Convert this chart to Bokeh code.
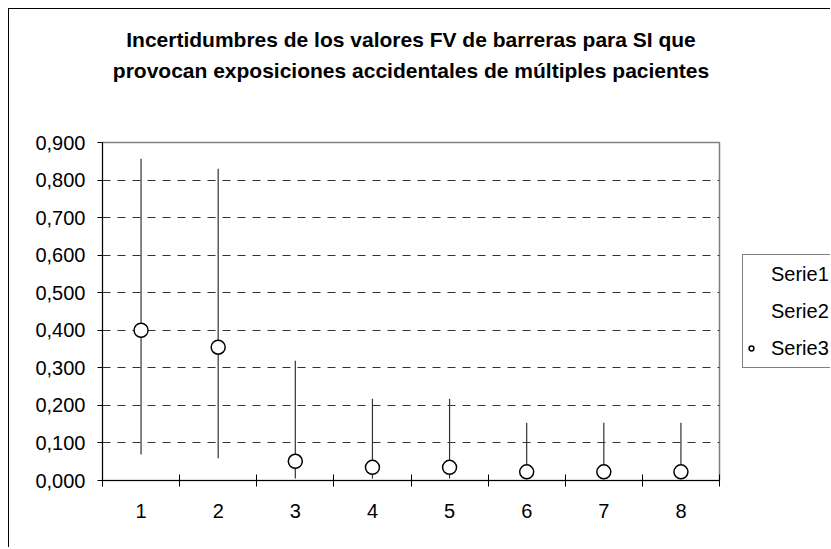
from bokeh.plotting import figure
from bokeh.models import Range1d, FixedTicker, Legend, LegendItem, Title, ColumnDataSource
from bokeh.embed import file_html
from bokeh.resources import INLINE

# ---- data ----
categories = [1, 2, 3, 4, 5, 6, 7, 8]
x_tick_labels = ["1", "2", "3", "4", "5", "6", "7", "8"]
serie1_high = [0.857, 0.830, 0.319, 0.218, 0.218, 0.154, 0.154, 0.154]
serie2_low = [0.069, 0.059, 0.005, 0.005, 0.005, 0.003, 0.003, 0.003]
serie3_mid = [0.400, 0.355, 0.051, 0.035, 0.035, 0.023, 0.023, 0.023]
y_ticks = [0.0, 0.1, 0.2, 0.3, 0.4, 0.5, 0.6, 0.7, 0.8, 0.9]
y_tick_labels = ["0,000", "0,100", "0,200", "0,300", "0,400",
                 "0,500", "0,600", "0,700", "0,800", "0,900"]
series_names = ["Serie1", "Serie2", "Serie3"]
title_lines = ["Incertidumbres de los valores FV de barreras para SI que",
               "provocan exposiciones accidentales de múltiples pacientes"]

FONT = "Liberation Sans"

p = figure(frame_width=617, frame_height=338, output_backend="svg", toolbar_location=None,
           x_range=Range1d(0.5, 8.5), y_range=Range1d(0, 0.9),
           min_border_left=93, min_border_right=110,
           min_border_top=133, min_border_bottom=67)
p.margin = (8, 0, 0, 8)
p.styles = {"border-left": "1px solid #000000", "border-top": "1px solid #000000",
            "max-width": "822px", "max-height": "540px", "overflow": "hidden"}
p.background_fill_color = "white"
p.border_fill_color = "white"
p.outline_line_color = "#808080"
p.outline_line_width = 1.5

src = ColumnDataSource(dict(x=categories, high=serie1_high, low=serie2_low, mid=serie3_mid))

# grid
p.xgrid.visible = False
p.ygrid.ticker = FixedTicker(ticks=y_ticks[1:-1])
p.ygrid.grid_line_color = "#333333"
p.ygrid.grid_line_dash = "8 7"
p.ygrid.grid_line_width = 1

# high-low lines
p.segment(x0="x", y0="low", x1="x", y1="high", source=src,
          line_color="#333333", line_width=1.2)
r1 = p.scatter("x", "high", source=src, size=1, alpha=0)
r2 = p.scatter("x", "low", source=src, size=1, alpha=0)
r3 = p.scatter("x", "mid", source=src, size=14, fill_color="white",
               line_color="black", line_width=1.5)

# axes
xa = p.xaxis[0]
xa.ticker = FixedTicker(ticks=categories,
                        minor_ticks=[c - 0.5 for c in categories] + [categories[-1] + 0.5])
xa.major_label_overrides = {c: l for c, l in zip(categories, x_tick_labels)}
xa.major_tick_in = 0
xa.major_tick_out = 0
xa.minor_tick_in = 6
xa.minor_tick_out = 6
xa.minor_tick_line_color = "black"
xa.axis_line_color = "black"
xa.major_label_standoff = 17
xa.major_label_text_font = FONT
xa.major_label_text_font_size = "20px"
xa.major_label_text_color = "black"

ya = p.yaxis[0]
ya.ticker = FixedTicker(ticks=y_ticks, minor_ticks=[])
ya.major_label_overrides = {t: l for t, l in zip(y_ticks, y_tick_labels)}
ya.major_tick_in = 0
ya.major_tick_out = 5
ya.major_tick_line_color = "black"
ya.axis_line_color = "black"
ya.major_label_standoff = 12
ya.major_label_text_font = FONT
ya.major_label_text_font_size = "20px"
ya.major_label_text_color = "black"

# legend (outside, right)
legend = Legend(items=[LegendItem(label=series_names[0], renderers=[r1]),
                       LegendItem(label=series_names[1], renderers=[r2]),
                       LegendItem(label=series_names[2], renderers=[r3])],
                location="center_left")
legend.border_line_color = "black"
legend.border_line_width = 1
legend.background_fill_color = "white"
legend.background_fill_alpha = 1
legend.label_text_font = FONT
legend.label_text_font_size = "20px"
legend.label_text_color = "black"
legend.padding = 2
legend.spacing = 3
legend.margin = 23
legend.glyph_height = 34
legend.glyph_width = 12
legend.label_height = 34
legend.label_standoff = 14
p.add_layout(legend, "right")

# blank spacer between plot area and the title block
p.add_layout(Title(text=" ", text_font=FONT, text_font_size="20px", standoff=34), "above")
# title (two lines, outer one added last)
for txt in reversed(title_lines):
    p.add_layout(Title(text=txt, align="center", offset=6, standoff=6,
                       text_font=FONT, text_font_style="bold",
                       text_font_size="21px", text_color="black"), "above")

open("out.html", "w").write(file_html(p, INLINE))
